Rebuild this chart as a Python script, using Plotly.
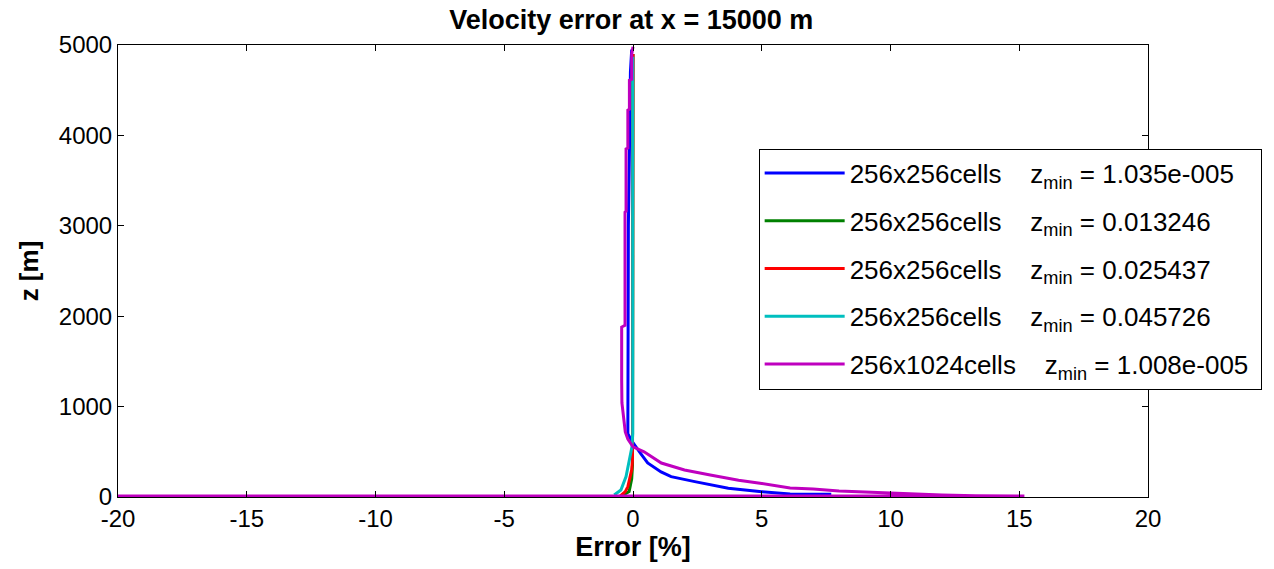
import plotly.graph_objects as go

# ---------------- data (error [%], z [m]) ----------------
names = [
    "256x256cells    z<sub>min</sub> = 1.035e-005",
    "256x256cells    z<sub>min</sub> = 0.013246",
    "256x256cells    z<sub>min</sub> = 0.025437",
    "256x256cells    z<sub>min</sub> = 0.045726",
    "256x1024cells    z<sub>min</sub> = 1.008e-005 ",
]
colors = ["#0000FF", "#008000", "#FF0000", "#00BFBF", "#BF00BF"]

blue_err = [7.7, 6.1, 5.0, 3.7, 2.4, 1.48, 1.09, 0.57, 0.3, 0.1, -0.05, -0.2, -0.2, -0.18, -0.18, -0.13, -0.1, -0.05]
blue_z = [30, 33, 59, 96, 170, 225, 277, 376, 480, 560, 620, 700, 930, 1500, 3000, 4000, 4700, 4950]

green_err = [-0.45, -0.15, -0.05, -0.02, 0.0]
green_z = [10, 60, 200, 350, 4900]

red_err = [-0.5, -0.3, -0.2, -0.05, -0.02, 0.0]
red_z = [10, 60, 114, 300, 410, 4900]

cyan_err = [-0.73, -0.47, -0.27, -0.14, -0.04, -0.01, -0.01]
cyan_z = [22, 77, 225, 410, 556, 700, 4870]

mag_err = [-25.0, 15.2, 13.3, 12.0, 10.9, 9.3, 8.0, 7.0, 6.1, 5.0, 4.1, 3.0, 2.0, 1.1, 0.43, 0.0,
           -0.2, -0.3, -0.34, -0.43, -0.44, -0.44, -0.31, -0.31, -0.27, -0.27, -0.2, -0.2,
           -0.14, -0.14, -0.05, -0.05, 0.0]
mag_z = [10, 10, 14, 22, 33, 55, 66, 88, 99, 150, 185, 243, 299, 376, 500, 556,
         640, 720, 818, 1040, 1294, 1880, 1900, 3150, 3160, 3850, 3860, 4280,
         4290, 4610, 4620, 4900, 4980]

series = [
    (blue_err, blue_z),
    (green_err, green_z),
    (red_err, red_z),
    (cyan_err, cyan_z),
    (mag_err, mag_z),
]

x_ticks = [-20, -15, -10, -5, 0, 5, 10, 15, 20]
y_ticks = [0, 1000, 2000, 3000, 4000, 5000]

FONT = "Liberation Sans, Arial, Helvetica, sans-serif"

fig = go.Figure()
for i, ((xe, zz), nm, col) in enumerate(zip(series, names, colors)):
    fig.add_trace(go.Scatter(
        x=xe, y=zz, mode="lines", name=nm,
        line=dict(color=col, width=3),
        legendgroup=f"g{i}",
    ))

axis_common = dict(
    showline=True, linecolor="black", linewidth=1, mirror="ticks",
    ticks="inside", ticklen=6, tickcolor="black", tickwidth=1,
    showgrid=False, zeroline=False,
    tickfont=dict(family=FONT, size=24, color="black"),
)

fig.update_layout(
    width=1274, height=569,
    margin=dict(l=118, r=126, t=45, b=72),
    paper_bgcolor="white", plot_bgcolor="white",
    title=dict(text="<b>Velocity error at x = 15000 m</b>", x=0.4955, xanchor="center",
               y=0.966, yanchor="middle",
               font=dict(family=FONT, size=27, color="black")),
    xaxis=dict(range=[-20, 20], tickvals=x_ticks, ticktext=[str(v) for v in x_ticks],
               title=dict(text="<b>Error [%]</b>", font=dict(family=FONT, size=27, color="black"),
                          standoff=2),
               **axis_common),
    yaxis=dict(range=[0, 5000], tickvals=y_ticks, ticktext=[str(v) for v in y_ticks],
               title=dict(text="<b>z [m]</b>", font=dict(family=FONT, size=26, color="black"),
                          standoff=12),
               **axis_common),
    legend=dict(
        x=0.622, y=0.771, xanchor="left", yanchor="top",
        bgcolor="white", bordercolor="black", borderwidth=1,
        font=dict(family=FONT, size=26, color="black"),
        itemwidth=80, traceorder="grouped", tracegroupgap=11,
    ),
    showlegend=True,
)

fig.write_html("out.html")
